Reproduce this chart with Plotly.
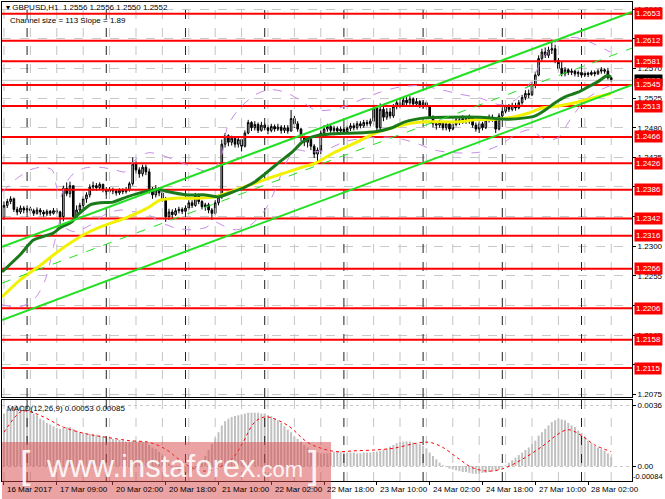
import plotly.graph_objects as go

# ---------------- data ----------------
close = [1.2362, 1.2368, 1.2372, 1.2356, 1.2352, 1.2358, 1.2355, 1.2357, 1.2354, 1.2350,
         1.2355, 1.2352, 1.2349, 1.2353, 1.2350, 1.2354, 1.2352, 1.2345, 1.2388, 1.2380,
         1.2392, 1.2345, 1.2355, 1.2362, 1.2372, 1.2378, 1.2390, 1.2392, 1.2389, 1.2394,
         1.2386, 1.2383, 1.2386, 1.2384, 1.2381, 1.2385, 1.2383, 1.2386, 1.2395, 1.2425,
         1.2416, 1.2410, 1.2420, 1.2413, 1.2385, 1.2378, 1.2388, 1.2381, 1.2372, 1.2345,
         1.2352, 1.2348, 1.2354, 1.2356, 1.2353, 1.2358, 1.2366, 1.2362, 1.2377, 1.2368,
         1.2360, 1.2363, 1.2355, 1.2350, 1.2366, 1.2375, 1.2455, 1.2468, 1.2458, 1.2464,
         1.2455, 1.2462, 1.2452, 1.2472, 1.2488, 1.2480, 1.2485, 1.2476, 1.2484, 1.2480,
         1.2476, 1.2482, 1.2478, 1.2481, 1.2476, 1.2480, 1.2475, 1.2494, 1.2486, 1.2478,
         1.2465, 1.2458, 1.2462, 1.2452, 1.2440, 1.2446, 1.2472, 1.2478, 1.2482, 1.2476,
         1.2479, 1.2475, 1.2478, 1.2474, 1.2479, 1.2483, 1.2480, 1.2486, 1.2483, 1.2488,
         1.2486, 1.2490, 1.2510, 1.2480, 1.2508, 1.2496, 1.2504, 1.2498, 1.2512, 1.2518,
         1.2514, 1.2522, 1.2518, 1.2524, 1.2516, 1.2520, 1.2514, 1.2518, 1.2512, 1.2497,
         1.2486, 1.2484, 1.2488, 1.2480, 1.2486, 1.2478, 1.2485, 1.2492, 1.2488, 1.2494,
         1.2490, 1.2495, 1.2484, 1.2478, 1.2486, 1.2480, 1.2492, 1.2496, 1.2494, 1.2478,
         1.2498, 1.2505, 1.2512, 1.2508, 1.2514, 1.2510, 1.2518, 1.2526, 1.2532, 1.2530,
         1.2545, 1.2560, 1.2585, 1.2595, 1.2590, 1.2598, 1.2600, 1.2582, 1.2570, 1.2562,
         1.2568, 1.2564, 1.2566, 1.2562, 1.2564, 1.2560, 1.2563, 1.2561, 1.2564, 1.2562,
         1.2566, 1.2568, 1.2566, 1.2556, 1.2552]
high = [1.2368, 1.2372, 1.2376, 1.2374, 1.2360, 1.2362, 1.2361, 1.2362, 1.2360, 1.2357,
        1.2359, 1.2358, 1.2355, 1.2356, 1.2355, 1.2358, 1.2358, 1.2354, 1.2392, 1.2397,
        1.2398, 1.2392, 1.2362, 1.2366, 1.2376, 1.2382, 1.2394, 1.2398, 1.2396, 1.2397,
        1.2395, 1.2390, 1.2390, 1.2389, 1.2387, 1.2388, 1.2388, 1.2390, 1.2398, 1.2435,
        1.2430, 1.2420, 1.2424, 1.2424, 1.2418, 1.2390, 1.2393, 1.2390, 1.2385, 1.2375,
        1.2357, 1.2356, 1.2358, 1.2360, 1.2359, 1.2362, 1.2370, 1.2370, 1.2381, 1.2380,
        1.2370, 1.2366, 1.2366, 1.2358, 1.2370, 1.2379, 1.2462, 1.2472, 1.2470, 1.2468,
        1.2466, 1.2466, 1.2464, 1.2476, 1.2492, 1.2490, 1.2490, 1.2488, 1.2489, 1.2487,
        1.2484, 1.2486, 1.2485, 1.2486, 1.2484, 1.2484, 1.2484, 1.2507, 1.2498, 1.2490,
        1.2480, 1.2468, 1.2466, 1.2464, 1.2455, 1.2450, 1.2476, 1.2484, 1.2486, 1.2485,
        1.2483, 1.2482, 1.2482, 1.2481, 1.2483, 1.2487, 1.2487, 1.2490, 1.2490, 1.2492,
        1.2492, 1.2494, 1.2515, 1.2510, 1.2517, 1.2512, 1.2510, 1.2510, 1.2516, 1.2522,
        1.2524, 1.2526, 1.2527, 1.2528, 1.2526, 1.2525, 1.2522, 1.2522, 1.2520, 1.2514,
        1.2499, 1.2490, 1.2492, 1.2490, 1.2490, 1.2488, 1.2489, 1.2496, 1.2496, 1.2499,
        1.2497, 1.2500, 1.2496, 1.2488, 1.2490, 1.2489, 1.2496, 1.2500, 1.2500, 1.2496,
        1.2502, 1.2509, 1.2516, 1.2516, 1.2518, 1.2518, 1.2522, 1.2530, 1.2537, 1.2538,
        1.2550, 1.2565, 1.2590, 1.2600, 1.2602, 1.2603, 1.2614, 1.2606, 1.2586, 1.2580,
        1.2572, 1.2570, 1.2570, 1.2568, 1.2567, 1.2566, 1.2566, 1.2565, 1.2567, 1.2567,
        1.2569, 1.2572, 1.2570, 1.2571, 1.2556]
low = [1.2340, 1.2358, 1.2364, 1.2352, 1.2347, 1.2349, 1.2350, 1.2351, 1.2349, 1.2346,
       1.2348, 1.2347, 1.2345, 1.2346, 1.2346, 1.2348, 1.2349, 1.2334, 1.2338, 1.2376,
       1.2374, 1.2340, 1.2342, 1.2350, 1.2358, 1.2366, 1.2374, 1.2384, 1.2384, 1.2386,
       1.2382, 1.2378, 1.2380, 1.2379, 1.2377, 1.2378, 1.2379, 1.2380, 1.2383, 1.2392,
       1.2410, 1.2404, 1.2406, 1.2408, 1.2380, 1.2372, 1.2374, 1.2376, 1.2368, 1.2337,
       1.2340, 1.2343, 1.2346, 1.2350, 1.2349, 1.2350, 1.2355, 1.2358, 1.2360, 1.2364,
       1.2356, 1.2354, 1.2350, 1.2340, 1.2348, 1.2362, 1.2372, 1.2450, 1.2452, 1.2453,
       1.2450, 1.2450, 1.2444, 1.2450, 1.2470, 1.2475, 1.2476, 1.2472, 1.2474, 1.2476,
       1.2470, 1.2473, 1.2474, 1.2475, 1.2471, 1.2472, 1.2471, 1.2474, 1.2480, 1.2474,
       1.2460, 1.2452, 1.2450, 1.2446, 1.2434, 1.2428, 1.2440, 1.2468, 1.2474, 1.2472,
       1.2472, 1.2471, 1.2470, 1.2470, 1.2472, 1.2475, 1.2476, 1.2477, 1.2479, 1.2480,
       1.2482, 1.2482, 1.2484, 1.2476, 1.2476, 1.2490, 1.2492, 1.2494, 1.2495, 1.2508,
       1.2510, 1.2512, 1.2514, 1.2515, 1.2512, 1.2513, 1.2510, 1.2510, 1.2508, 1.2494,
       1.2480, 1.2477, 1.2480, 1.2476, 1.2476, 1.2474, 1.2476, 1.2482, 1.2484, 1.2486,
       1.2486, 1.2486, 1.2480, 1.2474, 1.2472, 1.2476, 1.2478, 1.2488, 1.2489, 1.2472,
       1.2476, 1.2495, 1.2502, 1.2504, 1.2505, 1.2506, 1.2508, 1.2515, 1.2522, 1.2525,
       1.2528, 1.2540, 1.2558, 1.2580, 1.2586, 1.2586, 1.2592, 1.2578, 1.2566, 1.2558,
       1.2558, 1.2560, 1.2560, 1.2558, 1.2557, 1.2556, 1.2557, 1.2557, 1.2559, 1.2558,
       1.2560, 1.2562, 1.2562, 1.2553, 1.2550]
first_open = 1.2345

# moving averages (bar index, price)
ma_green_bar = [-0.6, 4.9, 8.8, 14.9, 17, 20.6, 22.2, 26.1, 29.1, 33, 37.3, 41.2, 43.7, 47.3, 48.8,
                55.8, 61, 64.9, 69.1, 73.1, 76.1, 79.1, 83, 87.3, 90.3, 93.4, 95.8, 100.3, 106.4,
                112.5, 117.6, 121.5, 127.6, 134.6, 144.3, 152.8, 157.9, 161, 164, 167, 170, 174,
                177, 180, 182.7, 184]
ma_green_val = [1.2261, 1.2287, 1.2309, 1.2320, 1.2328, 1.2337, 1.2347, 1.2363, 1.2366, 1.2367,
                1.2375, 1.2381, 1.2384, 1.2386, 1.2384, 1.2378, 1.2378, 1.2375, 1.2382, 1.2390,
                1.2398, 1.2410, 1.2426, 1.2443, 1.2458, 1.2466, 1.2469, 1.2471, 1.2472, 1.2474,
                1.2480, 1.2489, 1.2495, 1.2496, 1.2496, 1.2493, 1.2495, 1.2498, 1.2507, 1.2518,
                1.2527, 1.2534, 1.2542, 1.2550, 1.2559, 1.2557]
ma_yellow_bar = [-0.6, 4.9, 11, 16.1, 24, 29.1, 37.3, 43.4, 47.3, 51.8, 58.8, 64, 70.9, 76.1, 81.2,
                 86.1, 90.3, 94.3, 100.3, 106.4, 112.5, 118.5, 123.7, 127.6, 137.6, 142.8, 148.8,
                 154, 158.8, 163, 167.9, 173, 178.2, 184]
ma_yellow_val = [1.2223, 1.2249, 1.2271, 1.2291, 1.2317, 1.2329, 1.2344, 1.2358, 1.2370, 1.2373,
                 1.2373, 1.2375, 1.2387, 1.2396, 1.2405, 1.2413, 1.2420, 1.2426, 1.2443, 1.2457,
                 1.2472, 1.2481, 1.2487, 1.2489, 1.2489, 1.2492, 1.2493, 1.2496, 1.2502, 1.2510,
                 1.2513, 1.2518, 1.2525, 1.2532]

# envelope bands (violet dashed) (bar index, price)
band_up_bar = [-0.6, 3.4, 7.9, 11.5, 14.6, 15.8, 17, 18.5, 20.6, 24.6, 29.1, 33.7, 36.7, 39.7,
               43.7, 47.3, 51.8, 57.9, 62.5, 65.5, 67.9, 71.5, 76.1, 80.6, 85.2, 89.7, 94.3,
               98.8, 103.4, 107.9, 114, 120, 126.1, 132.2, 138.2, 144.3, 150.3, 154.9, 159.4,
               164, 167.9, 173, 177.6, 183.7]
band_up_val = [1.2382, 1.2401, 1.2416, 1.2420, 1.2416, 1.2393, 1.2373, 1.2393, 1.2408, 1.2419,
               1.2420, 1.2416, 1.2413, 1.2431, 1.2442, 1.2439, 1.2431, 1.2419, 1.2413, 1.2431,
               1.2484, 1.2510, 1.2530, 1.2538, 1.2534, 1.2522, 1.2507, 1.2507, 1.2513, 1.2522,
               1.2534, 1.2542, 1.2544, 1.2538, 1.2531, 1.2525, 1.2515, 1.2522, 1.2548, 1.2591,
               1.2613, 1.2617, 1.2610, 1.2595]
band_lo_bar = [-0.6, 4.9, 9.4, 12.5, 15.5, 17, 18.5, 21.5, 26.1, 30.6, 35.2, 39.7, 43.7, 47.3,
               51.8, 56.4, 60.9, 64, 66.1, 70.0, 74.6, 79.1, 82.2, 85.2, 88.2, 92.8, 97.3, 103.4,
               110.9, 118.5, 124.6, 130.6, 136.7, 144.3, 150.3, 154.9, 159.4, 164, 167.9, 171.5,
               176.1, 180.6, 183.7]
band_lo_val = [1.2211, 1.2208, 1.2221, 1.2249, 1.2310, 1.2337, 1.2328, 1.2322, 1.2332, 1.2348,
               1.2355, 1.2352, 1.2348, 1.2337, 1.2328, 1.2325, 1.2328, 1.2337, 1.2332, 1.2325,
               1.2332, 1.2355, 1.2386, 1.2424, 1.2446, 1.2443, 1.2446, 1.2459, 1.2465, 1.2465,
               1.2457, 1.2446, 1.2442, 1.2443, 1.2454, 1.2469, 1.2477, 1.2462, 1.2465, 1.2492,
               1.2522, 1.2537, 1.2544]

# regression channel (ends)
chan_bar = [-0.6, 190.3]
chan_upper = [1.2299, 1.2656]
chan_mid = [1.2244, 1.2601]
chan_lower = [1.2188, 1.2545]

# horizontal levels
levels = [1.2653, 1.2612, 1.2581, 1.2545, 1.2513, 1.2466, 1.2426, 1.2386, 1.2342, 1.2316,
          1.2266, 1.2206, 1.2158, 1.2115]
bid_price = 1.2552
price_ticks = [1.2075, 1.2120, 1.2165, 1.2210, 1.2255, 1.2300, 1.2345, 1.2390, 1.2435, 1.2480,
               1.2525, 1.2570, 1.2615, 1.2660]

# time axis
time_label_bars = [0, 16, 33, 49, 65, 81, 97, 113, 129, 145, 161, 177]
time_labels = ["16 Mar 2017", "17 Mar 09:00", "20 Mar 02:00", "20 Mar 18:00", "21 Mar 10:00",
               "22 Mar 02:00", "22 Mar 18:00", "23 Mar 10:00", "24 Mar 02:00", "24 Mar 18:00",
               "27 Mar 10:00", "28 Mar 02:00"]
day_start_bars = [7, 31, 55, 79, 103, 127, 151, 175]
grid_step_bars = 8

# MACD histogram (units of 1e-4)
macd_hist_e4 = [31, 33.5, 34, 35, 35.5, 35.5, 35, 34.5, 33, 31,
                30, 28, 27, 25.5, 24.5, 23.5, 22.5, 22, 22.5, 23,
                23, 22, 21, 20, 19.5, 19.5, 19, 19, 18.5, 18,
                17.5, 17, 16.5, 16, 15.5, 15.5, 15, 14.5, 14.5, 15,
                15, 14.5, 14.5, 14, 12.5, 11, 10, 8.5, 6, 3.5,
                1.5, 0, -1.5, -2.5, -3.5, -4, -4, -3, -1.5, 0.5,
                3, 6, 9.5, 13, 16.5, 20, 24, 26.5, 28, 29,
                29.5, 30, 30.5, 31, 31.5, 31.5, 31.5, 31.5, 31, 31,
                30, 29.5, 28, 27, 25.5, 23.5, 21.5, 20, 17.5, 16,
                14.5, 12.5, 11, 9.5, 8.5, 8, 7.5, 7.5, 7.5, 8,
                8.5, 8.5, 8.5, 8, 8, 8, 8, 7.5, 7.5, 8,
                8, 8, 8.5, 8.5, 9, 9.5, 10.5, 11.5, 12.5, 13.5,
                14, 14.5, 14.5, 14.5, 14, 13.5, 13, 12, 10.5, 8,
                6, 4, 2, 0.5, -0.5, -1.5, -2, -2.5, -3, -3.5,
                -3.5, -4, -4.5, -4.5, -4.5, -4, -4, -3.5, -3, -3,
                -2, -1, 0.5, 2, 3.5, 5, 6.5, 8, 9.5, 11,
                13, 15, 18, 20, 22, 24, 26, 27, 28, 27.5,
                27, 25.5, 24, 23, 21, 19.5, 17, 15, 13.5, 12,
                11, 10, 9, 7.5, 5.3]
macd_sig_bar = [0, 5, 7, 12, 18, 25, 31, 38, 44, 49, 53, 57, 61, 65, 69, 72, 76, 79, 81, 86, 92,
                97, 101, 106, 112, 118, 125, 129, 133, 138, 142, 147, 152, 157, 163, 168, 171,
                175, 179, 184]
macd_sig_e4 = [20, 32, 32.5, 29, 23, 19, 17, 15, 14, 10, 4, -1, -3, -1, 4, 12.5, 26, 29, 28.5, 24,
               14, 10, 8.5, 9, 9.5, 10.5, 13.5, 14, 11, 4, -1, -3, -1, 4, 11.5, 19, 21.5, 18,
               12.5, 8.5]

# ---------------- layout helpers ----------------
W, H = 665, 499
ML, MR, MT, MB = 2, 33, 2, 18
PW, PH = W - ML - MR, H - MT - MB


def pxx(xp):
    return (xp - ML) / PW


def pxy(yp):
    return (H - MB - yp) / PH


FONT = "Liberation Sans, Arial, sans-serif"
bars = list(range(len(close)))
opens = [first_open] + close[:-1]
macd_hist = [v * 1e-4 for v in macd_hist_e4]
macd_sig = [v * 1e-4 for v in macd_sig_e4]
X_RANGE = [-0.6, 190.3]
Y_MAIN = [1.2071, 1.2671]
Y_MACD = [-0.00088, 0.0039]

fig = go.Figure()

# vertical grid lines and day separators
grid_bars = list(range(0, 191, grid_step_bars))
for xa, ya, yr in [("x", "y", Y_MAIN), ("x2", "y2", Y_MACD)]:
    gx, gy = [], []
    for b in grid_bars:
        gx += [b, b, None]
        gy += [yr[0], yr[1], None]
    fig.add_trace(go.Scatter(x=gx, y=gy, mode="lines", line=dict(color="#c4c4c4", width=1, dash="dash"),
                             xaxis=xa, yaxis=ya, showlegend=False, hoverinfo="skip"))
    dx, dy = [], []
    for b in day_start_bars:
        dx += [b, b, None]
        dy += [yr[0], yr[1], None]
    fig.add_trace(go.Scatter(x=dx, y=dy, mode="lines", line=dict(color="#222222", width=1, dash="dash"),
                             xaxis=xa, yaxis=ya, showlegend=False, hoverinfo="skip"))

# bid line and red levels
fig.add_trace(go.Scatter(x=X_RANGE, y=[bid_price, bid_price], mode="lines",
                         line=dict(color="#c8c8c8", width=1), xaxis="x", yaxis="y",
                         showlegend=False, hoverinfo="skip"))
lx, ly = [], []
for lv in levels:
    lx += [X_RANGE[0], X_RANGE[1], None]
    ly += [lv, lv, None]
fig.add_trace(go.Scatter(x=lx, y=ly, mode="lines", line=dict(color="#ff0000", width=2),
                         xaxis="x", yaxis="y", showlegend=False, hoverinfo="skip"))

# violet envelope bands
for bx, bv in [(band_up_bar, band_up_val), (band_lo_bar, band_lo_val)]:
    fig.add_trace(go.Scatter(x=bx, y=bv, mode="lines", line=dict(color="#c58ae6", width=1, dash="dash",
                                                                 shape="spline", smoothing=0.8),
                             xaxis="x", yaxis="y", showlegend=False, hoverinfo="skip"))

fig.add_trace(go.Candlestick(
    x=bars, open=opens, high=high, low=low, close=close,
    increasing=dict(line=dict(color="black", width=1), fillcolor="#c8c8c8"),
    decreasing=dict(line=dict(color="black", width=1), fillcolor="black"),
    whiskerwidth=0, xaxis="x", yaxis="y", showlegend=False, hoverinfo="skip"))

fig.add_trace(go.Scatter(x=ma_yellow_bar, y=ma_yellow_val, mode="lines",
                         line=dict(color="#f2f200", width=3, shape="spline", smoothing=0.6),
                         xaxis="x", yaxis="y", showlegend=False, hoverinfo="skip"))
fig.add_trace(go.Scatter(x=ma_green_bar, y=ma_green_val, mode="lines",
                         line=dict(color="#1a7a1a", width=3, shape="spline", smoothing=0.6),
                         xaxis="x", yaxis="y", showlegend=False, hoverinfo="skip"))
for vals, w, d in [(chan_upper, 2, "solid"), (chan_lower, 2, "solid"), (chan_mid, 1, "dash")]:
    fig.add_trace(go.Scatter(x=chan_bar, y=vals, mode="lines",
                             line=dict(color="#22e022", width=w, dash=d), xaxis="x", yaxis="y",
                             showlegend=False, hoverinfo="skip"))

fig.add_trace(go.Bar(x=bars, y=macd_hist, marker=dict(color="#c0c0c0", line=dict(width=0)),
                     width=0.6, xaxis="x2", yaxis="y2", showlegend=False, hoverinfo="skip"))
fig.add_trace(go.Scatter(x=macd_sig_bar, y=macd_sig, mode="lines",
                         line=dict(color="#ff0000", width=1, dash="dot", shape="spline"),
                         xaxis="x2", yaxis="y2", showlegend=False, hoverinfo="skip"))

shapes = [dict(type="rect", xref="paper", yref="paper", x0=pxx(2), x1=pxx(331),
               y0=pxy(499), y1=pxy(442), fillcolor="rgba(214,70,70,0.5)",
               line=dict(width=0), layer="above")]

ann = []
ann.append(dict(xref="paper", yref="paper", x=pxx(4), y=pxy(7), xanchor="left", yanchor="middle",
                text="▾ GBPUSD,H1  1.2556 1.2556 1.2550 1.2552", showarrow=False,
                font=dict(family=FONT, size=8, color="black")))
ann.append(dict(xref="paper", yref="paper", x=pxx(8), y=pxy(20), xanchor="left", yanchor="middle",
                text="Channel size = 113 Slope = 1.89", showarrow=False,
                font=dict(family=FONT, size=8, color="black")))
ann.append(dict(xref="paper", yref="paper", x=pxx(5), y=pxy(408), xanchor="left", yanchor="middle",
                text="MACD(12,26,9) 0.00053 0.00085", showarrow=False,
                font=dict(family=FONT, size=8, color="black")))
for b, t in zip(time_label_bars, time_labels):
    ann.append(dict(xref="x2", yref="paper", x=b + 0.4, y=pxy(489), xanchor="left",
                    yanchor="middle", text=t, showarrow=False,
                    font=dict(family=FONT, size=8, color="black")))
ann.append(dict(xref="paper", yref="y", x=pxx(634), y=bid_price, xanchor="left", yanchor="middle",
                text=f"{bid_price:.4f}", showarrow=False, bgcolor="black", borderpad=1,
                font=dict(family=FONT, size=8, color="white")))
for lv in levels:
    ann.append(dict(xref="paper", yref="y", x=pxx(634), y=lv, xanchor="left", yanchor="middle",
                    text=f"{lv:.4f}", showarrow=False, bgcolor="#ff0000", borderpad=1,
                    font=dict(family=FONT, size=8, color="white")))
ann.append(dict(xref="paper", yref="y2", x=pxx(632), y=-0.00062, xanchor="left", yanchor="middle",
                text="-0.00084", showarrow=False, borderpad=0,
                font=dict(family=FONT, size=7.5, color="black")))
ann.append(dict(xref="paper", yref="paper", x=pxx(18), y=pxy(465), xanchor="left", yanchor="middle",
                text="[", showarrow=False,
                font=dict(family=FONT, size=38, color="rgba(255,255,255,0.9)")))
ann.append(dict(xref="paper", yref="paper", x=pxx(44), y=pxy(466), xanchor="left", yanchor="middle",
                text="www.instaforex<span style='font-size:22px'>.com</span>", showarrow=False,
                font=dict(family=FONT, size=31, color="rgba(255,255,255,0.9)")))
ann.append(dict(xref="paper", yref="paper", x=pxx(306), y=pxy(465), xanchor="left", yanchor="middle",
                text="]", showarrow=False,
                font=dict(family=FONT, size=38, color="rgba(255,255,255,0.9)")))

axis_common = dict(showline=True, mirror=True, linecolor="black", linewidth=1, zeroline=False)

fig.update_layout(
    width=W, height=H, margin=dict(l=ML, r=MR, t=MT, b=MB),
    paper_bgcolor="white", plot_bgcolor="white", showlegend=False,
    xaxis=dict(domain=[0, 1], range=X_RANGE, anchor="y", showticklabels=False,
               showgrid=False, ticks="", rangeslider=dict(visible=False), **axis_common),
    yaxis=dict(domain=[pxy(397), 1], range=Y_MAIN, side="right", anchor="x",
               tickmode="array", tickvals=price_ticks, ticktext=[f"{p:.4f}" for p in price_ticks],
               ticks="outside", ticklen=3, tickcolor="black",
               tickfont=dict(family=FONT, size=8, color="black"),
               showgrid=True, gridcolor="#c8c8c8", griddash="dash", gridwidth=1, **axis_common),
    xaxis2=dict(domain=[0, 1], range=X_RANGE, anchor="y2", tickmode="array",
                tickvals=time_label_bars, ticktext=[""] * len(time_label_bars), ticks="outside",
                ticklen=3, tickcolor="black", showgrid=False, **axis_common),
    yaxis2=dict(domain=[0, pxy(400)], range=Y_MACD, side="right", anchor="x2",
                tickmode="array", tickvals=[0.0036, 0.0], ticktext=["0.0036", "0.00"],
                ticks="outside", ticklen=3, tickcolor="black",
                tickfont=dict(family=FONT, size=8, color="black"),
                showgrid=True, gridcolor="#c8c8c8", griddash="dot", gridwidth=1, **axis_common),
    shapes=shapes, annotations=ann,
)

fig.write_html("out.html", config={"displayModeBar": False, "staticPlot": True},
               post_script="document.body.style.margin='0';document.body.style.overflow='hidden';")
